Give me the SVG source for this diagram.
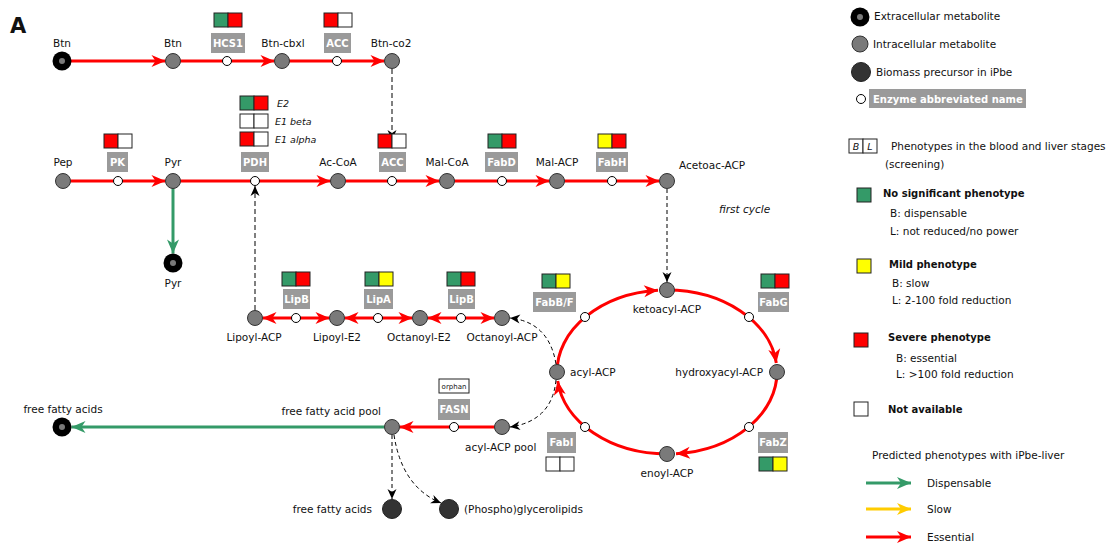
<svg xmlns="http://www.w3.org/2000/svg" width="1107" height="547" viewBox="0 0 1107 547">
<style>
text{font-family:"DejaVu Sans","Liberation Sans",sans-serif;font-size:10.5px;fill:#111}
.m{text-anchor:middle}
.e{text-anchor:end}
.it{font-style:italic}
.b{font-weight:bold;font-size:10px}
.et{font-weight:bold;font-size:10px;fill:#fff;text-anchor:middle}
.eb{fill:#9a9a9a}
.met{fill:#7a7a7a;stroke:#333;stroke-width:1}
.extO{fill:#000}
.extI{fill:#7a7a7a}
.enz{fill:#fff;stroke:#000;stroke-width:1}
.bio{fill:#333;stroke:#222;stroke-width:1}
.ph{stroke:#222;stroke-width:1}
.G{fill:#349a68}.R{fill:#f00}.Y{fill:#ff0}.W{fill:#fff}
.lr{stroke:#f00;stroke-width:3;fill:none}
.lg{stroke:#349a68;stroke-width:3;fill:none}
.ly{stroke:#ffcc00;stroke-width:3;fill:none}
.dk{stroke:#000;stroke-width:1;stroke-dasharray:4,3;fill:none}
.dg{stroke:#555;stroke-width:1.5;stroke-dasharray:5,3;fill:none}
</style>
<defs>
<marker id="aR" markerUnits="userSpaceOnUse" markerWidth="14" markerHeight="12" refX="14" refY="6" orient="auto-start-reverse" overflow="visible"><path d="M0,0 L14,6 L0,12 L4,6 Z" fill="#f00"/></marker>
<marker id="aG" markerUnits="userSpaceOnUse" markerWidth="14" markerHeight="12" refX="14" refY="6" orient="auto-start-reverse" overflow="visible"><path d="M0,0 L14,6 L0,12 L4,6 Z" fill="#349a68"/></marker>
<marker id="aY" markerUnits="userSpaceOnUse" markerWidth="14" markerHeight="12" refX="14" refY="6" orient="auto-start-reverse" overflow="visible"><path d="M0,0 L14,6 L0,12 L4,6 Z" fill="#ffcc00"/></marker>
<marker id="aK" markerUnits="userSpaceOnUse" markerWidth="10" markerHeight="9" refX="10" refY="4.5" orient="auto" overflow="visible"><path d="M0,0 L10,4.5 L0,9 L3,4.5 Z" fill="#000"/></marker>
</defs>
<rect width="1107" height="547" fill="#fff"/>
<text x="10" y="33" style="font-size:21px;font-weight:bold">A</text>

<g id="connectors">
<path class="lr" d="M62,61 H165.5" marker-end="url(#aR)"/>
<path class="lr" d="M173,61 H274.5" marker-end="url(#aR)"/>
<path class="lr" d="M282,61 H384.5" marker-end="url(#aR)"/>
<path class="dg" d="M392,69 V140" marker-end="url(#aK)"/>
<path class="lr" d="M63,181 H165.5" marker-end="url(#aR)"/>
<path class="lr" d="M173,181 H330.5" marker-end="url(#aR)"/>
<path class="lr" d="M338,181 H439.5" marker-end="url(#aR)"/>
<path class="lr" d="M447,181 H549.5" marker-end="url(#aR)"/>
<path class="lr" d="M557,181 H659.5" marker-end="url(#aR)"/>
<path class="lg" d="M173,181 V253.5" marker-end="url(#aG)"/>
<path class="dg" d="M255,310 V186" marker-end="url(#aK)"/>
<path class="lr" d="M262.5,318 H329.5" marker-start="url(#aR)" marker-end="url(#aR)"/>
<path class="lr" d="M344.5,318 H412.5" marker-start="url(#aR)" marker-end="url(#aR)"/>
<path class="lr" d="M427.5,318 H494.5" marker-start="url(#aR)" marker-end="url(#aR)"/>
<path class="dk" d="M667,189 V282" marker-end="url(#aK)"/>
<path class="lr" d="M557,372 A110,82 0 0,1 658,290.3" marker-end="url(#aR)"/>
<path class="lr" d="M667,290 A110,82 0 0,1 776.3,363" marker-end="url(#aR)"/>
<path class="lr" d="M777,372 A110,82 0 0,1 676,453.7" marker-end="url(#aR)"/>
<path class="lr" d="M667,454 A110,82 0 0,1 557.7,381" marker-end="url(#aR)"/>
<path class="dk" d="M556,364 Q549,322 510,318" marker-end="url(#aK)"/>
<path class="dk" d="M556,380 Q552,421 510,427" marker-end="url(#aK)"/>
<path class="lr" d="M502,427 H399.5" marker-end="url(#aR)"/>
<path class="lg" d="M392,427 H71.5" marker-end="url(#aG)"/>
<path class="dk" d="M392,435 V499" marker-end="url(#aK)"/>
<path class="dk" d="M394,435 Q402,487 441,503" marker-end="url(#aK)"/>
</g>

<!-- Row 1 -->
<g id="btn-ext"><circle class="extO" cx="62" cy="61" r="9.5"/><circle class="extI" cx="62" cy="61" r="3"/><text class="m" x="62" y="47">Btn</text></g>
<g id="btn"><circle class="met" cx="173" cy="61" r="7.5"/><text class="m" x="173" y="47">Btn</text></g>
<g id="hcs1"><rect class="ph G" x="214" y="13" width="14" height="14"/><rect class="ph R" x="228" y="13" width="14" height="14"/><rect class="eb" x="211" y="33" width="34" height="20"/><text class="et" x="228" y="47">HCS1</text><circle class="enz" cx="227" cy="61" r="4.5"/></g>
<g id="btn-cbxl"><circle class="met" cx="282" cy="61" r="7.5"/><text class="m" x="283" y="47">Btn-cbxl</text></g>
<g id="acc1"><rect class="ph R" x="324" y="13" width="14" height="14"/><rect class="ph W" x="338" y="13" width="14" height="14"/><rect class="eb" x="324" y="33" width="27" height="20"/><text class="et" x="337.5" y="47">ACC</text><circle class="enz" cx="337" cy="61" r="4.5"/></g>
<g id="btn-co2"><circle class="met" cx="392" cy="61" r="7.5"/><text class="m" x="391" y="47">Btn-co2</text></g>

<!-- Row 2 -->
<g id="pep"><circle class="met" cx="63" cy="181" r="7.5"/><text class="m" x="63" y="166">Pep</text></g>
<g id="pk"><rect class="ph R" x="104" y="134" width="14" height="14"/><rect class="ph W" x="118" y="134" width="14" height="14"/><rect class="eb" x="107" y="152" width="21" height="20"/><text class="et" x="117.5" y="166">PK</text><circle class="enz" cx="118" cy="181" r="4.5"/></g>
<g id="pyr"><circle class="met" cx="173" cy="181" r="7.5"/><text class="m" x="173" y="166">Pyr</text></g>
<g id="pyr-ext"><circle class="extO" cx="173" cy="263" r="9.5"/><circle class="extI" cx="173" cy="263" r="3"/><text class="m" x="173" y="287">Pyr</text></g>
<g id="pdh">
<rect class="ph G" x="240" y="96" width="14" height="14"/><rect class="ph R" x="254" y="96" width="14" height="14"/><text class="it" x="277" y="107" style="font-size:9.5px">E2</text>
<rect class="ph W" x="240" y="114" width="14" height="14"/><rect class="ph W" x="254" y="114" width="14" height="14"/><text class="it" x="275" y="125" style="font-size:9.5px">E1 beta</text>
<rect class="ph R" x="240" y="132" width="14" height="14"/><rect class="ph W" x="254" y="132" width="14" height="14"/><text class="it" x="275" y="143" style="font-size:9.5px">E1 alpha</text>
<rect class="eb" x="241" y="152" width="28" height="20"/><text class="et" x="255" y="166">PDH</text><circle class="enz" cx="255" cy="181" r="4.5"/></g>
<g id="ac-coa"><circle class="met" cx="338" cy="181" r="7.5"/><text class="m" x="338" y="166">Ac-CoA</text></g>
<g id="acc2"><rect class="ph R" x="378" y="134" width="14" height="14"/><rect class="ph W" x="392" y="134" width="14" height="14"/><rect class="eb" x="379" y="152" width="27" height="20"/><text class="et" x="392.5" y="166">ACC</text><circle class="enz" cx="392" cy="181" r="4.5"/></g>
<g id="mal-coa"><circle class="met" cx="447" cy="181" r="7.5"/><text class="m" x="447" y="166">Mal-CoA</text></g>
<g id="fabd"><rect class="ph G" x="488" y="134" width="14" height="14"/><rect class="ph R" x="502" y="134" width="14" height="14"/><rect class="eb" x="485" y="152" width="33" height="20"/><text class="et" x="501.5" y="166">FabD</text><circle class="enz" cx="502" cy="181" r="4.5"/></g>
<g id="mal-acp"><circle class="met" cx="557" cy="181" r="7.5"/><text class="m" x="557" y="166">Mal-ACP</text></g>
<g id="fabh"><rect class="ph Y" x="598" y="134" width="14" height="14"/><rect class="ph R" x="612" y="134" width="14" height="14"/><rect class="eb" x="596" y="152" width="32" height="20"/><text class="et" x="612" y="166">FabH</text><circle class="enz" cx="612" cy="181" r="4.5"/></g>
<g id="acetoac-acp"><circle class="met" cx="667" cy="181" r="7.5"/><text x="679" y="169">Acetoac-ACP</text></g>
<text class="it" x="719" y="213">first cycle</text>

<!-- Lipoate -->
<g id="lipoyl-acp"><circle class="met" cx="255" cy="318" r="7.5"/><text class="m" x="254" y="341">Lipoyl-ACP</text></g>
<g id="lipb1"><rect class="ph G" x="282" y="272" width="14" height="14"/><rect class="ph R" x="296" y="272" width="14" height="14"/><rect class="eb" x="283" y="289" width="27" height="20"/><text class="et" x="296.5" y="303">LipB</text><circle class="enz" cx="296" cy="318" r="4.5"/></g>
<g id="lipoyl-e2"><circle class="met" cx="337" cy="318" r="7.5"/><text class="m" x="337" y="341">Lipoyl-E2</text></g>
<g id="lipa"><rect class="ph G" x="365" y="272" width="14" height="14"/><rect class="ph Y" x="379" y="272" width="14" height="14"/><rect class="eb" x="364" y="289" width="29" height="20"/><text class="et" x="378.5" y="303">LipA</text><circle class="enz" cx="378" cy="318" r="4.5"/></g>
<g id="octanoyl-e2"><circle class="met" cx="420" cy="318" r="7.5"/><text class="m" x="419" y="341">Octanoyl-E2</text></g>
<g id="lipb2"><rect class="ph G" x="447" y="272" width="14" height="14"/><rect class="ph R" x="461" y="272" width="14" height="14"/><rect class="eb" x="448" y="289" width="27" height="20"/><text class="et" x="461.5" y="303">LipB</text><circle class="enz" cx="461" cy="318" r="4.5"/></g>
<g id="octanoyl-acp"><circle class="met" cx="502" cy="318" r="7.5"/><text class="m" x="502" y="341">Octanoyl-ACP</text></g>

<!-- Cycle -->
<g id="ketoacyl-acp"><circle class="met" cx="667" cy="290" r="7.5"/><text class="m" x="667" y="313">ketoacyl-ACP</text></g>
<g id="hydroxyacyl-acp"><circle class="met" cx="777" cy="372" r="7.5"/><text class="e" x="763" y="376">hydroxyacyl-ACP</text></g>
<g id="enoyl-acp"><circle class="met" cx="667" cy="454" r="7.5"/><text class="m" x="667" y="477">enoyl-ACP</text></g>
<g id="acyl-acp"><circle class="met" cx="557" cy="372" r="7.5"/><text x="570" y="376">acyl-ACP</text></g>
<g id="fabbf"><rect class="ph G" x="542" y="274" width="14" height="14"/><rect class="ph Y" x="556" y="274" width="14" height="14"/><rect class="eb" x="533" y="292" width="43" height="20"/><text class="et" x="554.5" y="306">FabB/F</text><circle class="enz" cx="585" cy="317" r="4.5"/></g>
<g id="fabg"><rect class="ph G" x="761" y="274" width="14" height="14"/><rect class="ph R" x="775" y="274" width="14" height="14"/><rect class="eb" x="758" y="292" width="31" height="20"/><text class="et" x="773.5" y="306">FabG</text><circle class="enz" cx="749" cy="317" r="4.5"/></g>
<g id="fabi"><rect class="eb" x="547" y="432" width="29" height="21"/><text class="et" x="561.5" y="446">FabI</text><rect class="ph W" x="546" y="457" width="14" height="14"/><rect class="ph W" x="560" y="457" width="14" height="14"/><circle class="enz" cx="585" cy="427" r="4.5"/></g>
<g id="fabz"><rect class="eb" x="758" y="432" width="30" height="21"/><text class="et" x="773" y="446">FabZ</text><rect class="ph G" x="759" y="457" width="14" height="14"/><rect class="ph Y" x="773" y="457" width="14" height="14"/><circle class="enz" cx="749" cy="427" r="4.5"/></g>

<!-- Bottom -->
<g id="acyl-acp-pool"><circle class="met" cx="502" cy="427" r="7.5"/><text x="465" y="451">acyl-ACP pool</text></g>
<g id="fasn"><rect x="439" y="379" width="30" height="14" fill="#fff" stroke="#222" stroke-width="1"/><text class="m" x="454" y="389" style="font-size:7px">orphan</text><rect class="eb" x="438" y="399" width="32" height="21"/><text class="et" x="454" y="413">FASN</text><circle class="enz" cx="454" cy="427" r="4.5"/></g>
<g id="ffa-pool"><circle class="met" cx="392" cy="427" r="7.5"/><text class="e" x="381" y="415">free fatty acid pool</text></g>
<g id="ffa-ext"><circle class="extO" cx="62" cy="427" r="9.5"/><circle class="extI" cx="62" cy="427" r="3"/><text class="m" x="63" y="413">free fatty acids</text></g>
<g id="ffa-bio"><circle class="bio" cx="392" cy="509" r="9.5"/><text class="e" x="372" y="513">free fatty acids</text></g>
<g id="phospho"><circle class="bio" cx="449" cy="509" r="9.5"/><text x="464" y="513">(Phospho)glycerolipids</text></g>

<!-- Legend -->
<g id="legend">
<circle class="extO" cx="860" cy="17" r="9.5"/><circle class="extI" cx="860" cy="17" r="3"/><text x="874" y="20">Extracellular metabolite</text>
<circle class="met" cx="860" cy="44" r="8"/><text x="873" y="48">Intracellular metabolite</text>
<circle class="bio" cx="861" cy="72" r="9.5"/><text x="876" y="76">Biomass precursor in iPbe</text>
<circle class="enz" cx="861" cy="99" r="4.5"/><rect class="eb" x="869" y="89" width="157" height="19"/><text x="873" y="103" class="b" style="fill:#fff">Enzyme abbreviated name</text>
<rect class="ph W" x="849" y="139" width="14" height="14"/><rect class="ph W" x="863" y="139" width="14" height="14"/><text class="it m" x="856" y="150" style="font-size:9.5px">B</text><text class="it m" x="870" y="150" style="font-size:9.5px">L</text>
<text x="891" y="150">Phenotypes in the blood and liver stages</text>
<text x="885" y="168">(screening)</text>
<rect class="ph G" x="857" y="188" width="14" height="14"/><text class="b" x="883" y="197">No significant phenotype</text>
<text x="890" y="217">B: dispensable</text><text x="890" y="235">L: not reduced/no power</text>
<rect class="ph Y" x="857" y="259" width="14" height="14"/><text class="b" x="889" y="268">Mild phenotype</text>
<text x="892" y="287">B: slow</text><text x="892" y="304">L: 2-100 fold reduction</text>
<rect class="ph R" x="854" y="333" width="14" height="14"/><text class="b" x="888" y="341">Severe phenotype</text>
<text x="896" y="362">B: essential</text><text x="896" y="378">L: &gt;100 fold reduction</text>
<rect class="ph W" x="854" y="402" width="14" height="14"/><text class="b" x="888" y="413">Not available</text>
<text x="872" y="459">Predicted phenotypes with iPbe-liver</text>
<path class="lg" d="M866,483 H911" marker-end="url(#aG)"/><text x="927" y="487">Dispensable</text>
<path class="ly" d="M866,509 H911" marker-end="url(#aY)"/><text x="927" y="513">Slow</text>
<path class="lr" d="M866,537 H911" marker-end="url(#aR)"/><text x="927" y="541">Essential</text>
</g>
</svg>
